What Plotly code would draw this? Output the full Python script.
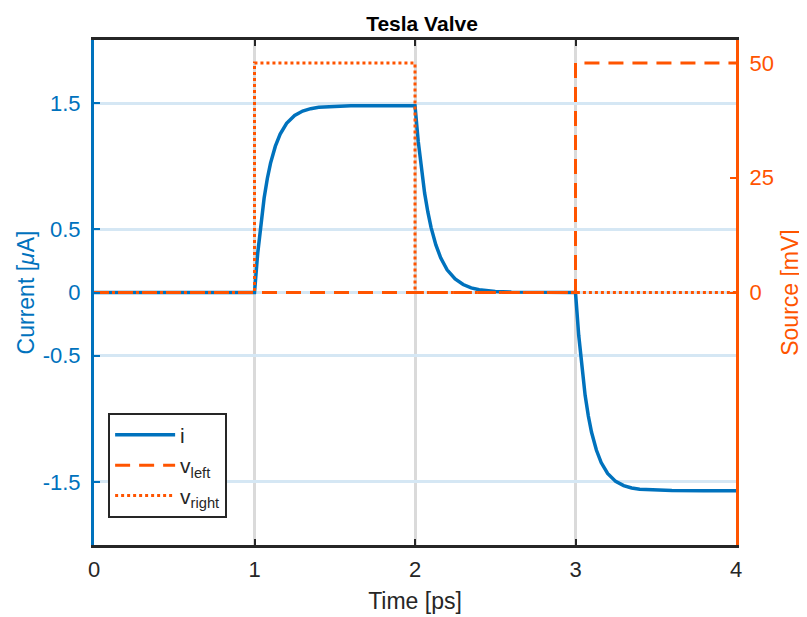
import plotly.graph_objects as go

# ---- data ----
time_ps = [0.0, 1.0,
           1.02, 1.04, 1.06, 1.08, 1.10, 1.13, 1.16, 1.20, 1.25, 1.30, 1.35, 1.40, 1.50, 1.60, 1.80, 2.00,
           2.02, 2.04, 2.06, 2.08, 2.10, 2.13, 2.16, 2.20, 2.25, 2.30, 2.35, 2.40, 2.50, 2.60, 2.80, 3.00,
           3.02, 3.04, 3.06, 3.08, 3.10, 3.13, 3.16, 3.20, 3.25, 3.30, 3.35, 3.40, 3.50, 3.60, 3.80, 4.00]
current_uA = [0.0, 0.0,
              0.311, 0.555, 0.749, 0.903, 1.025, 1.159, 1.255, 1.340, 1.402, 1.437, 1.456, 1.467, 1.476, 1.479, 1.48, 1.48,
              1.199, 0.971, 0.787, 0.638, 0.516, 0.377, 0.275, 0.180, 0.107, 0.063, 0.037, 0.022, 0.008, 0.003, 0.0, 0.0,
              -0.339, -0.606, -0.815, -0.978, -1.107, -1.248, -1.347, -1.433, -1.496, -1.530, -1.548, -1.558, -1.566, -1.569, -1.57, -1.57]

v_left_t = [0, 3, 3, 4]
v_left_mV = [0, 0, 50, 50]
v_right_t = [0, 1, 1, 2, 2, 4]
v_right_mV = [0, 0, 50, 50, 0, 0]

x_ticks = [0, 1, 2, 3, 4]
left_ticks = [-1.5, -0.5, 0, 0.5, 1.5]
left_tick_text = ["-1.5", "-0.5", "0", "0.5", "1.5"]
right_ticks = [0, 25, 50]

BLUE = "#0072BD"
ORANGE = "#FF5400"
DARK = "#262626"
FONT = "Liberation Sans, Arial, sans-serif"

fig = go.Figure()
fig.add_trace(go.Scatter(x=time_ps, y=current_uA, mode="lines", name="i",
                         line=dict(color=BLUE, width=3.5), yaxis="y"))
fig.add_trace(go.Scatter(x=v_left_t, y=v_left_mV, mode="lines", name="v<sub>left</sub>",
                         line=dict(color=ORANGE, width=3, dash="15px,9px"), yaxis="y2"))
fig.add_trace(go.Scatter(x=v_right_t, y=v_right_mV, mode="lines", name="v<sub>right</sub>",
                         line=dict(color=ORANGE, width=3, dash="3px,3px"), yaxis="y2"))

fig.update_layout(
    width=807, height=617,
    margin=dict(l=86, r=79, t=32, b=80, autoexpand=False),
    paper_bgcolor="white", plot_bgcolor="white",
    font=dict(family=FONT, size=22, color=DARK),
    title=dict(text="<b>Tesla Valve</b>", x=0.513, xanchor="center", y=1 - 16 / 617,
               yanchor="middle", font=dict(size=21, color="black", family=FONT)),
    xaxis=dict(range=[0, 4], tickvals=x_ticks, ticks="inside", ticklen=6, tickwidth=2,
               tickcolor=DARK, showline=True, linecolor=DARK, linewidth=3,
               mirror="ticks", showgrid=True, gridcolor="#DADADA", gridwidth=3,
               zeroline=False, ticklabelstandoff=3,
               title=dict(text="Time [ps]", standoff=12, font=dict(size=23, color=DARK)),
               tickfont=dict(size=22, color=DARK)),
    yaxis=dict(range=[-2, 2], tickvals=left_ticks, ticktext=left_tick_text, ticks="inside",
               ticklen=6, tickwidth=2, tickcolor=BLUE, showline=True, linecolor=BLUE, linewidth=3,
               showgrid=True, gridcolor="#D5E7F4", gridwidth=3, zeroline=False,
               ticklabelstandoff=6,
               title=dict(text="Current [<i>μ</i>A]", standoff=2, font=dict(size=23, color=BLUE)),
               tickfont=dict(size=22, color=BLUE)),
    yaxis2=dict(range=[-55, 55], tickvals=right_ticks, overlaying="y", side="right",
                ticks="inside", ticklen=6, tickwidth=2, tickcolor=ORANGE, showline=True,
                linecolor=ORANGE, linewidth=3, showgrid=False, zeroline=False,
                ticklabelstandoff=6,
                title=dict(text="Source [mV]", standoff=10, font=dict(size=23, color=ORANGE)),
                tickfont=dict(size=22, color=ORANGE)),
    legend=dict(x=0.022, y=0.262, xanchor="left", yanchor="top", bgcolor="white",
                bordercolor=DARK, borderwidth=2, font=dict(size=21, color=DARK),
                itemwidth=60, tracegroupgap=0),
    showlegend=True,
)

fig.write_html("out.html")
